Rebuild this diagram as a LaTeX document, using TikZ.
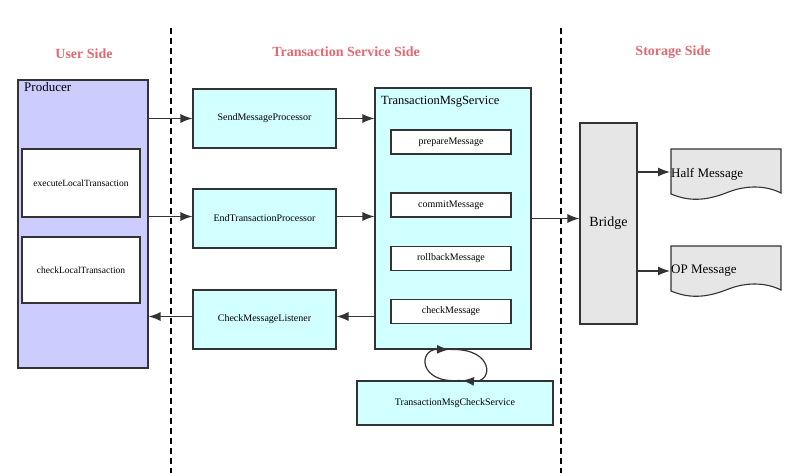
\documentclass[tikz,border=0pt]{standalone}
\usepackage{fontspec}
\setmainfont{Liberation Serif}
\usetikzlibrary{arrows.meta}
\definecolor{linec}{HTML}{333333}
\definecolor{lav}{HTML}{CCCCFF}
\definecolor{cyanf}{HTML}{D2FFFF}
\definecolor{grayf}{HTML}{E6E6E6}
\definecolor{headc}{RGB}{226,104,114}
\tikzset{
  box/.style={draw=linec, line width=1.1pt, inner sep=0pt, minimum width=#1},
  arr/.style={draw=linec, line width=1.2pt, -{Latex[length=12pt,width=9pt]}},
  head/.style={font=\bfseries\fontsize{14}{16}\selectfont, text=headc},
  sep/.style={draw=black, line width=1.2pt, dash pattern=on 6pt off 4pt},
  doc/.style={draw=linec, line width=1.1pt, fill=grayf}
}
\begin{document}
\begin{tikzpicture}[x=1pt,y=-1pt]
\useasboundingbox (0,0) rectangle (800,473);
% separators
\coordinate (s1t) at (171,28); \coordinate (s1b) at (171,473);
\coordinate (s2t) at (561,28); \coordinate (s2b) at (561,473);
\draw[sep] (s1t) -- (s1b);
\draw[sep] (s2t) -- (s2b);
% headings
\node[head] (h1) at (84,54) {User Side};
\node[head] (h2) at (346,52) {Transaction Service Side};
\node[head] (h3) at (673,52) {Storage Side};
% producer
\node[box=130pt, minimum height=288pt, fill=lav] (prod) at (83,224) {};
\node[anchor=base west, font=\fontsize{13}{15}\selectfont, inner sep=0pt] (prodl) at (24,92) {Producer};
\node[box=118pt, minimum height=68pt, fill=white, font=\fontsize{9.5}{11}\selectfont] (exec) at (81,183) {executeLocalTransaction};
\node[box=118pt, minimum height=66pt, fill=white, font=\fontsize{9.5}{11}\selectfont] (chkl) at (81,270) {checkLocalTransaction};
% processors
\node[box=143pt, minimum height=59pt, fill=cyanf, font=\fontsize{10}{12}\selectfont] (send) at (264.5,118.5) {SendMessageProcessor};
\node[box=143pt, minimum height=59pt, fill=cyanf, font=\fontsize{10}{12}\selectfont] (endp) at (264.5,218.5) {EndTransactionProcessor};
\node[box=143pt, minimum height=59pt, fill=cyanf, font=\fontsize{10}{12}\selectfont] (cml) at (264.5,319.5) {CheckMessageListener};
% TMS
\node[box=156pt, minimum height=261pt, fill=cyanf] (tms) at (453,218.5) {};
\node[anchor=base west, font=\fontsize{12.5}{14}\selectfont, inner sep=0pt] (tmsl) at (381,104.5) {TransactionMsgService};
\node[box=120pt, minimum height=24pt, fill=white, font=\fontsize{10}{12}\selectfont] (prep) at (451,142) {prepareMessage};
\node[box=120pt, minimum height=24pt, fill=white, font=\fontsize{10}{12}\selectfont] (comm) at (451,205) {commitMessage};
\node[box=120pt, minimum height=24pt, fill=white, font=\fontsize{10}{12}\selectfont] (roll) at (451,258.5) {rollbackMessage};
\node[box=120pt, minimum height=24pt, fill=white, font=\fontsize{10}{12}\selectfont] (chkm) at (451,311.5) {checkMessage};
% TMCS
\node[box=196pt, minimum height=44pt, fill=cyanf, font=\fontsize{10}{12}\selectfont] (tmcs) at (455,403) {TransactionMsgCheckService};
% Bridge
\node[box=57pt, minimum height=201pt, fill=grayf, font=\fontsize{14}{16}\selectfont] (bridge) at (608.5,223.5) {Bridge};
% documents
\draw[doc] (671,149) -- (781,149) -- (781,193) .. controls (765,185) and (745,185) .. (726,193) .. controls (710,199) and (692,203) .. (671,194) -- cycle;
\draw[doc] (671,246) -- (781,246) -- (781,290) .. controls (765,282) and (745,282) .. (726,290) .. controls (710,296) and (692,300) .. (671,291) -- cycle;
\node[anchor=west, inner sep=1pt, font=\fontsize{13}{15}\selectfont] (half) at (670,174) {Half Message};
\node[anchor=west, inner sep=1pt, font=\fontsize{13}{15}\selectfont] (opm) at (670,271) {OP Message};
% connectors
\draw[arr] (send.west -| prod.east) -- (send.west);
\draw[arr] ([yshift=2pt]endp.west -| prod.east) -- ([yshift=2pt]endp.west);
\draw[arr] ([yshift=3pt]cml.west) -- ([yshift=3pt]cml.west -| prod.east);
\draw[arr] (send.east) -- (send.east -| tms.west);
\draw[arr] ([yshift=2pt]endp.east) -- ([yshift=2pt]endp.east -| tms.west);
\draw[arr] ([yshift=3pt]cml.east -| tms.west) -- ([yshift=3pt]cml.east);
\draw[arr] (tms.east) -- (tms.east -| bridge.west);
\draw[arr] ([yshift=2pt]half.west -| bridge.east) -- ([yshift=2pt]half.west);
\draw[arr] (opm.west -| bridge.east) -- (opm.west);
% loop
\coordinate (la) at ([xshift=5pt]tmcs.north);
\coordinate (lb) at ([xshift=-4pt]tms.south);
\coordinate (lc) at ([xshift=-2pt]tms.south);
\coordinate (ld) at ([xshift=7pt]tmcs.north);
\draw[arr] (la) .. controls (418,384) and (418,349) .. (lb);
\draw[arr] (lc) .. controls (494,348) and (494,383) .. (ld);
\end{tikzpicture}
\end{document}
